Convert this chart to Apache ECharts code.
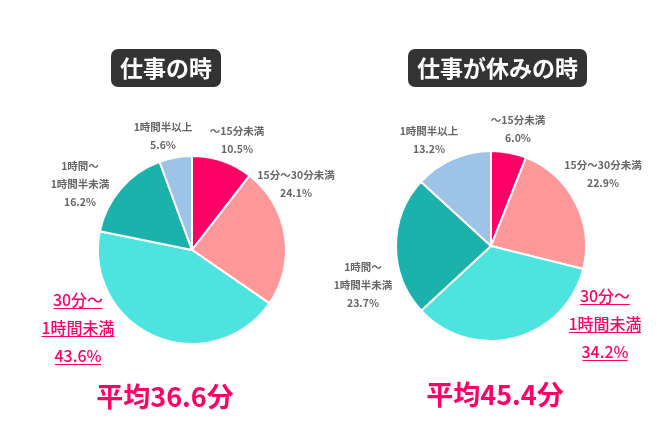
<!DOCTYPE html>
<html>
<head>
<meta charset="utf-8">
<script src="https://cdn.jsdelivr.net/npm/echarts@6/dist/echarts.min.js"></script>
<style>
  html, body { margin: 0; padding: 0; background: #fff; }
  #main { width: 658px; height: 448px; }
</style>
</head>
<body>
<div id="main"></div>
<script>
// データ
var categories = ["～15分未満", "15分～30分未満", "30分～1時間未満", "1時間～1時間半未満", "1時間半以上"];
var labelNames = ["～15分未満", "15分～30分未満", "30分～\n1時間未満", "1時間～\n1時間半未満", "1時間半以上"];
var workValues = [10.5, 24.1, 43.6, 16.2, 5.6];
var offValues = [6.0, 22.9, 34.2, 23.7, 13.2];
var averages = ["平均36.6分", "平均45.4分"];
var titles = ["仕事の時", "仕事が休みの時"];

var colors = ["#ff0066", "#ff9999", "#4de3df", "#1ab2ab", "#9dc3e6"];
var FONT = "'Noto Sans CJK JP', sans-serif";
var PINK = "#ff0066";

// ラベル位置
var workLabelPos = [[237, 140], [296, 184], [78, 328], [80, 184], [163, 136]];
var offLabelPos = [[518, 129], [603, 174], [605, 324], [363, 285], [429, 140]];
var underlineW = [[49, 73, 46], [50, 72, 45]];
var PINK_LH = 28;

function buildData(values) {
  return values.map(function (v, i) {
    var item = { name: categories[i], value: v };
    if (i === 2) {
      item.label = {
        formatter: labelNames[i] + "\n" + v.toFixed(1) + "%",
        fontSize: 16,
        fontWeight: 500,
        color: PINK,
        lineHeight: PINK_LH
      };
    } else {
      item.label = { formatter: labelNames[i] + "\n" + v.toFixed(1) + "%" };
    }
    return item;
  });
}

function makePie(values, center, radius, pos) {
  return {
    type: "pie",
    center: center,
    radius: radius,
    startAngle: 90,
    clockwise: true,
    avoidLabelOverlap: false,
    itemStyle: { borderColor: "#fff", borderWidth: 2 },
    label: {
      show: true,
      position: "outside",
      color: "#666",
      fontSize: 10.5,
      fontWeight: "bold",
      fontFamily: FONT,
      lineHeight: 18,
      align: "center"
    },
    labelLine: { show: false },
    labelLayout: function (p) {
      return { x: pos[p.dataIndex][0], y: pos[p.dataIndex][1], align: "center", verticalAlign: "middle" };
    },
    emphasis: { disabled: true },
    data: buildData(values)
  };
}

// 下線（ピンクのラベル）
function underlines(pos, widths) {
  return widths.map(function (w, j) {
    var y = pos[1] + (j - 1) * PINK_LH + 8.5;
    return {
      type: "line",
      shape: { x1: pos[0] - w / 2, y1: y, x2: pos[0] + w / 2, y2: y },
      style: { stroke: PINK, lineWidth: 1 },
      silent: true
    };
  });
}

var myChart = echarts.init(document.getElementById("main"));

var titleStyle = { color: "#fff", fontSize: 23, fontWeight: "bold", fontFamily: FONT, lineHeight: 24 };
var avgFont = "bold 27px " + FONT;

var option = {
  backgroundColor: "#fff",
  color: colors,
  title: [
    { text: titles[0], left: 111, top: 49, backgroundColor: "#333", borderRadius: 7, padding: [7, 9], textStyle: titleStyle },
    { text: titles[1], left: 408, top: 49, backgroundColor: "#333", borderRadius: 7, padding: [7, 9], textStyle: titleStyle }
  ],
  graphic: underlines(workLabelPos[2], underlineW[0])
    .concat(underlines(offLabelPos[2], underlineW[1]))
    .concat([
      { type: "text", x: 165, y: 397, style: { text: averages[0], font: avgFont, fill: PINK, align: "center", verticalAlign: "middle" } },
      { type: "text", x: 495, y: 395, style: { text: averages[1], font: avgFont, fill: PINK, align: "center", verticalAlign: "middle" } }
    ]),
  series: [
    makePie(workValues, [192, 250], 94, workLabelPos),
    makePie(offValues, [491, 246], 95, offLabelPos)
  ]
};

myChart.setOption(option);
</script>
</body>
</html>
